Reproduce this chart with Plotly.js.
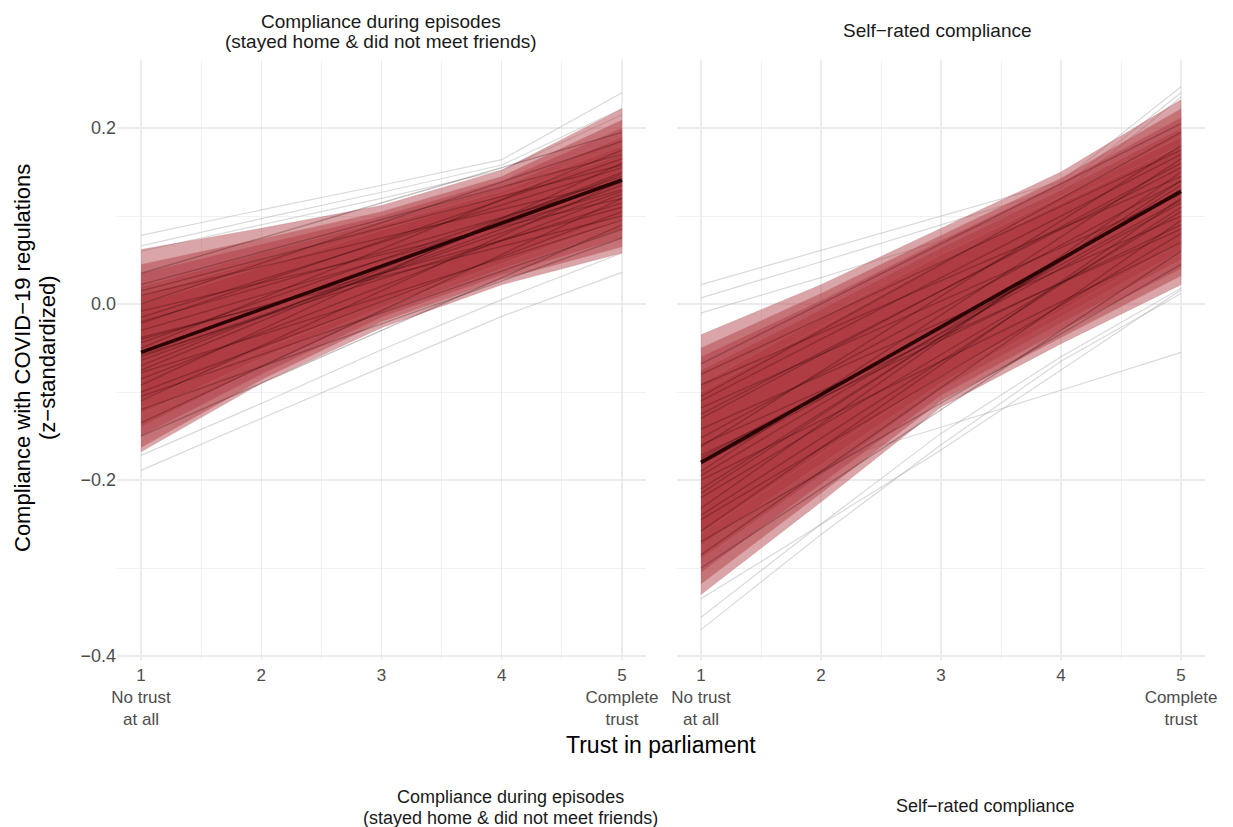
<!DOCTYPE html>
<html>
<head>
<meta charset="utf-8">
<script src="https://cdn.plot.ly/plotly-3.0.1.min.js"></script>
<style>html,body{margin:0;padding:0;background:#fff;}#chart{width:1233px;height:827px;}</style>
</head>
<body>
<div id="chart"></div>
<script>
// ---------- DATA ----------
const trustLevels = [1, 2, 3, 4, 5];
const tickLabels = ["1<br>No trust<br>at all", "2", "3", "4", "5<br>Complete<br>trust"];
const panelTitles = ["Compliance during episodes|(stayed home & did not meet friends)", "Self\u2212rated compliance"];

// Panel 1: Compliance during episodes
const ep_mean = [-0.055, -0.006, 0.043, 0.092, 0.141];
const ep_ribLo = [
  [-0.168, -0.090, -0.027, 0.022, 0.058],
  [-0.163, -0.086, -0.020, 0.028, 0.065],
  [-0.150, -0.080, -0.015, 0.033, 0.075],
  [-0.140, -0.072, -0.010, 0.040, 0.085],
  [-0.125, -0.062, -0.004, 0.046, 0.095],
  [-0.110, -0.052, 0.002, 0.052, 0.100]
];
const ep_ribHi = [
  [0.062, 0.086, 0.112, 0.152, 0.222],
  [0.045, 0.074, 0.105, 0.145, 0.209],
  [0.035, 0.068, 0.100, 0.140, 0.200],
  [0.020, 0.058, 0.094, 0.133, 0.190],
  [0.010, 0.050, 0.090, 0.128, 0.180],
  [0.000, 0.042, 0.084, 0.124, 0.170]
];
const ep_specStart = [-0.150,-0.135,-0.120,-0.110,-0.100,-0.092,-0.085,-0.078,-0.070,-0.064,-0.058,-0.050,-0.044,-0.038,-0.030,-0.022,-0.015,-0.008,0.000,0.010,0.022,0.035,-0.105,-0.060,-0.040,-0.075,-0.020,0.015];
const ep_specEnd   = [0.090,0.120,0.075,0.140,0.105,0.160,0.125,0.095,0.150,0.135,0.115,0.175,0.145,0.100,0.130,0.165,0.155,0.120,0.185,0.140,0.170,0.195,0.085,0.128,0.110,0.148,0.138,0.158];
const ep_gray = [
  [0.078, 0.107, 0.135, 0.164, 0.240],
  [0.066, 0.097, 0.127, 0.158, 0.222],
  [0.060, 0.090, 0.120, 0.152, 0.215],
  [-0.189, -0.130, -0.072, -0.014, 0.036],
  [-0.172, -0.113, -0.052, 0.005, 0.058]
];

// Panel 2: Self-rated compliance
const sr_mean = [-0.180, -0.103, -0.026, 0.051, 0.128];
const sr_ribLo = [
  [-0.330, -0.225, -0.117, -0.045, 0.022],
  [-0.318, -0.215, -0.110, -0.038, 0.032],
  [-0.305, -0.205, -0.104, -0.030, 0.040],
  [-0.290, -0.195, -0.097, -0.022, 0.050],
  [-0.275, -0.182, -0.090, -0.015, 0.060],
  [-0.260, -0.170, -0.082, -0.008, 0.070]
];
const sr_ribHi = [
  [-0.035, 0.022, 0.086, 0.150, 0.232],
  [-0.050, 0.012, 0.078, 0.143, 0.222],
  [-0.060, 0.004, 0.072, 0.138, 0.212],
  [-0.075, -0.006, 0.064, 0.130, 0.200],
  [-0.090, -0.016, 0.056, 0.122, 0.190],
  [-0.100, -0.026, 0.048, 0.115, 0.180]
];
const sr_specStart = [-0.300,-0.285,-0.270,-0.258,-0.245,-0.232,-0.220,-0.210,-0.200,-0.190,-0.182,-0.172,-0.162,-0.152,-0.142,-0.130,-0.118,-0.105,-0.092,-0.080,-0.068,-0.240,-0.195,-0.160,-0.125,-0.215,-0.175,-0.110];
const sr_specEnd   = [0.060,0.095,0.045,0.120,0.080,0.150,0.105,0.135,0.070,0.165,0.115,0.090,0.180,0.140,0.100,0.160,0.125,0.195,0.145,0.175,0.205,0.110,0.130,0.085,0.155,0.140,0.118,0.170];
const sr_gray = [
  [0.022, 0.061, 0.100, 0.139, 0.247],
  [0.007, 0.048, 0.090, 0.132, 0.240],
  [-0.010, 0.030, 0.072, 0.125, 0.235],
  [-0.222, -0.181, -0.140, -0.098, -0.055],
  [-0.356, -0.250, -0.147, -0.060, 0.018],
  [-0.370, -0.262, -0.160, -0.065, 0.012],
  [-0.335, -0.250, -0.166, -0.075, 0.016]
];

// ---------- BUILD ----------
const panels = [
  {xa: 'x', ya: 'y', mean: ep_mean, lo: ep_ribLo, hi: ep_ribHi, s0: ep_specStart, s1: ep_specEnd, gray: ep_gray},
  {xa: 'x2', ya: 'y2', mean: sr_mean, lo: sr_ribLo, hi: sr_ribHi, s0: sr_specStart, s1: sr_specEnd, gray: sr_gray}
];
const traces = [];
const xFirst = trustLevels[0], xLast = trustLevels[trustLevels.length - 1];
panels.forEach(p => {
  p.gray.forEach(g => traces.push({
    type: 'scatter', mode: 'lines', x: trustLevels, y: g, xaxis: p.xa, yaxis: p.ya,
    line: {color: 'rgba(160,160,160,0.4)', width: 1.2}, hoverinfo: 'skip', showlegend: false
  }));
  p.lo.forEach((lo, i) => {
    const hi = p.hi[i];
    traces.push({
      type: 'scatter', mode: 'lines', fill: 'toself',
      x: trustLevels.concat(trustLevels.slice().reverse()),
      y: lo.concat(hi.slice().reverse()),
      xaxis: p.xa, yaxis: p.ya,
      line: {width: 0.6, color: 'rgba(190,115,120,0.5)'},
      fillcolor: 'rgba(172,55,62,0.45)', hoverinfo: 'skip', showlegend: false
    });
  });
  p.s0.forEach((s, i) => traces.push({
    type: 'scatter', mode: 'lines', x: [xFirst, xLast], y: [s, p.s1[i]], xaxis: p.xa, yaxis: p.ya,
    line: {color: 'rgba(40,0,5,0.26)', width: 1.4}, hoverinfo: 'skip', showlegend: false
  }));
  traces.push({
    type: 'scatter', mode: 'lines', x: trustLevels, y: p.mean, xaxis: p.xa, yaxis: p.ya,
    line: {color: '#2a0303', width: 3.6}, hoverinfo: 'skip', showlegend: false
  });
});

const L = 117, R = 1205, T = 60, B = 660;
const fx = v => (v - L) / (R - L);
const fy = v => (B - v) / (B - T);
const FONT = 'Liberation Sans, Arial, sans-serif';
const gridC = '#ebebeb';

function xAxis(dom, anchor) {
  return {
    domain: dom, anchor: anchor, range: [0.8, 5.2],
    tickmode: 'array', tickvals: trustLevels, ticktext: tickLabels,
    tickfont: {family: FONT, size: 17, color: '#4d4d4d'}, ticklabelstandoff: 3,
    showgrid: true, gridcolor: gridC, gridwidth: 1.3,
    minor: {tickmode: 'array', tickvals: [1.5, 2.5, 3.5, 4.5], showgrid: true, gridcolor: gridC, gridwidth: 0.7, ticks: ''},
    zeroline: false, showline: false, ticks: '', fixedrange: true
  };
}
function yAxis(anchor, labels, match) {
  const a = {
    anchor: anchor, range: [-0.4045, 0.2773], domain: [0, 1],
    tickmode: 'array', tickvals: [-0.4, -0.2, 0, 0.2], ticktext: ['\u22120.4', '\u22120.2', '0.0', '0.2'],
    showticklabels: labels,
    tickfont: {family: FONT, size: 18, color: '#4d4d4d'},
    showgrid: true, gridcolor: gridC, gridwidth: 1.3,
    minor: {tickmode: 'array', tickvals: [-0.3, -0.1, 0.1], showgrid: true, gridcolor: gridC, gridwidth: 0.7, ticks: ''},
    zeroline: false, showline: false, ticks: '', fixedrange: true
  };
  if (match) a.matches = match;
  return a;
}

const t1 = panelTitles[0].split('|');
const ann = [];
function addText(text, xpx, ypx, size, color, angle) {
  ann.push({text: text, xref: 'paper', yref: 'paper', x: fx(xpx), y: fy(ypx),
    xanchor: 'center', yanchor: 'middle', showarrow: false, textangle: angle || 0,
    font: {family: FONT, size: size, color: color}});
}
addText(t1[0], 381, 21, 19, '#1a1a1a');
addText(t1[1], 381, 42, 19, '#1a1a1a');
addText(panelTitles[1], 937, 31, 19, '#1a1a1a');
addText('Trust in parliament', 661, 745, 23, '#000');
addText('Compliance with COVID\u221219 regulations', 22, 358, 22, '#000', -90);
addText('(z\u2212standardized)', 47, 358, 22, '#000', -90);
addText(t1[0], 510, 797, 18, '#1a1a1a');
addText(t1[1], 510, 818, 18, '#1a1a1a');
addText(panelTitles[1], 985, 806, 18, '#1a1a1a');

const layout = {
  width: 1233, height: 827,
  margin: {l: L, r: 1233 - R, t: T, b: 827 - B, pad: 0},
  paper_bgcolor: '#fff', plot_bgcolor: '#fff',
  showlegend: false,
  xaxis: xAxis([0, fx(646)], 'y'),
  xaxis2: xAxis([fx(677), 1], 'y2'),
  yaxis: yAxis('x', true),
  yaxis2: yAxis('x2', false, 'y'),
  annotations: ann,
  font: {family: FONT}
};
Plotly.newPlot('chart', traces, layout, {displayModeBar: false, staticPlot: true});
</script>
</body>
</html>
